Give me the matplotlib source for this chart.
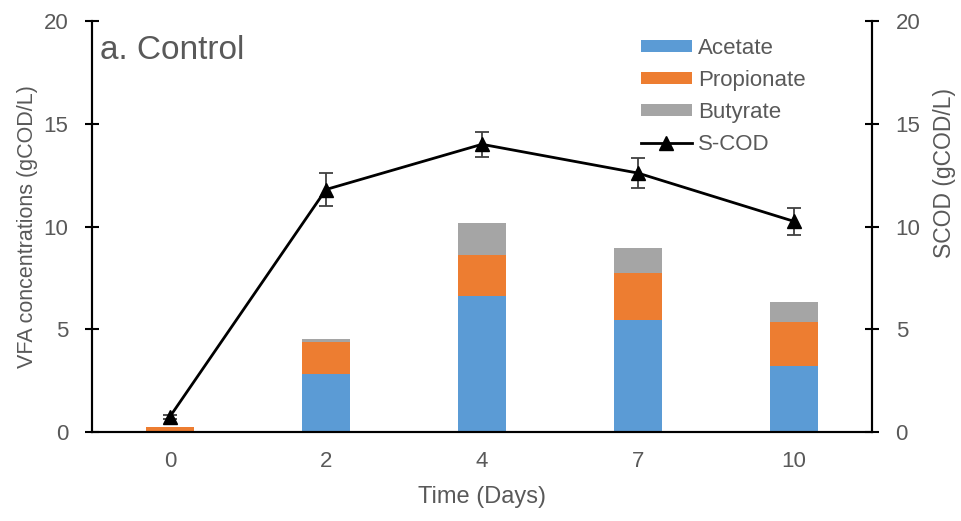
import numpy as np
import matplotlib
matplotlib.use("Agg")
import matplotlib.pyplot as plt

plt.rcParams['font.family'] = ['Liberation Sans', 'DejaVu Sans']

#%% data
days = ['0', '2', '4', '7', '10']
acetate = [0.0, 2.8, 6.6, 5.45, 3.2]
propionate = [0.25, 1.6, 2.0, 2.3, 2.15]
butyrate = [0.0, 0.15, 1.55, 1.2, 1.0]
scod = [0.75, 11.8, 14.0, 12.6, 10.25]
scod_err = [0.1, 0.8, 0.6, 0.75, 0.65]

c_ace = '#5B9BD5'
c_pro = '#ED7D31'
c_but = '#A5A5A5'
txt = '#595959'

#%% plot
fig = plt.figure(figsize=(9.62, 5.21), dpi=100)
ax = fig.add_axes([0.0956, 0.1708, 0.8108, 0.7889])
ax2 = ax.twinx()

x = np.arange(len(days))
w = 0.31
b1 = ax.bar(x, acetate, w, color=c_ace, label='Acetate')
b2 = ax.bar(x, propionate, w, bottom=acetate, color=c_pro, label='Propionate')
bot = np.array(acetate) + np.array(propionate)
b3 = ax.bar(x, butyrate, w, bottom=bot, color=c_but, label='Butyrate')

ax2.errorbar(x, scod, yerr=scod_err, fmt='none', ecolor='#404040',
             elinewidth=1.3, capsize=5, capthick=1.3, zorder=3)
ln, = ax2.plot(x, scod, color='black', lw=2, marker='^', ms=10, label='S-COD', zorder=4)

for a in (ax, ax2):
    a.set_ylim(0, 20)
    a.set_yticks([0, 5, 10, 15, 20])
    a.set_xlim(-0.5, 4.5)
    a.spines['top'].set_visible(False)
    for s in a.spines.values():
        s.set_linewidth(1.5)
        s.set_color('black')
    a.tick_params(axis='y', direction='inout', length=10, width=1.5,
                  labelsize=16, labelcolor=txt, pad=12)
ax.set_xticks(x)
ax.set_xticklabels(days)
ax.tick_params(axis='x', length=0, labelsize=16, labelcolor=txt, pad=14)

ax.set_xlabel('Time (Days)', fontsize=17, color=txt, labelpad=10)
ax.set_ylabel('VFA concentrations (gCOD/L)', fontsize=15.5, color=txt, labelpad=4)
ax2.set_ylabel('SCOD (gCOD/L)', fontsize=16.5, color=txt)
ax2.yaxis.set_label_coords(1.078, 0.63)

ax.text(0.01, 0.965, 'a. Control', transform=ax.transAxes, fontsize=24,
        color=txt, va='top', ha='left')

leg = ax2.legend([b1, b2, b3, ln], ['Acetate', 'Propionate', 'Butyrate', 'S-COD'],
                 loc='upper left', bbox_to_anchor=(0.692, 0.98), frameon=False,
                 fontsize=16, handlelength=2.3, handleheight=0.45,
                 labelspacing=0.5, handletextpad=0.3, labelcolor=txt,
                 borderaxespad=0)

fig.savefig('out.png', dpi=100)
